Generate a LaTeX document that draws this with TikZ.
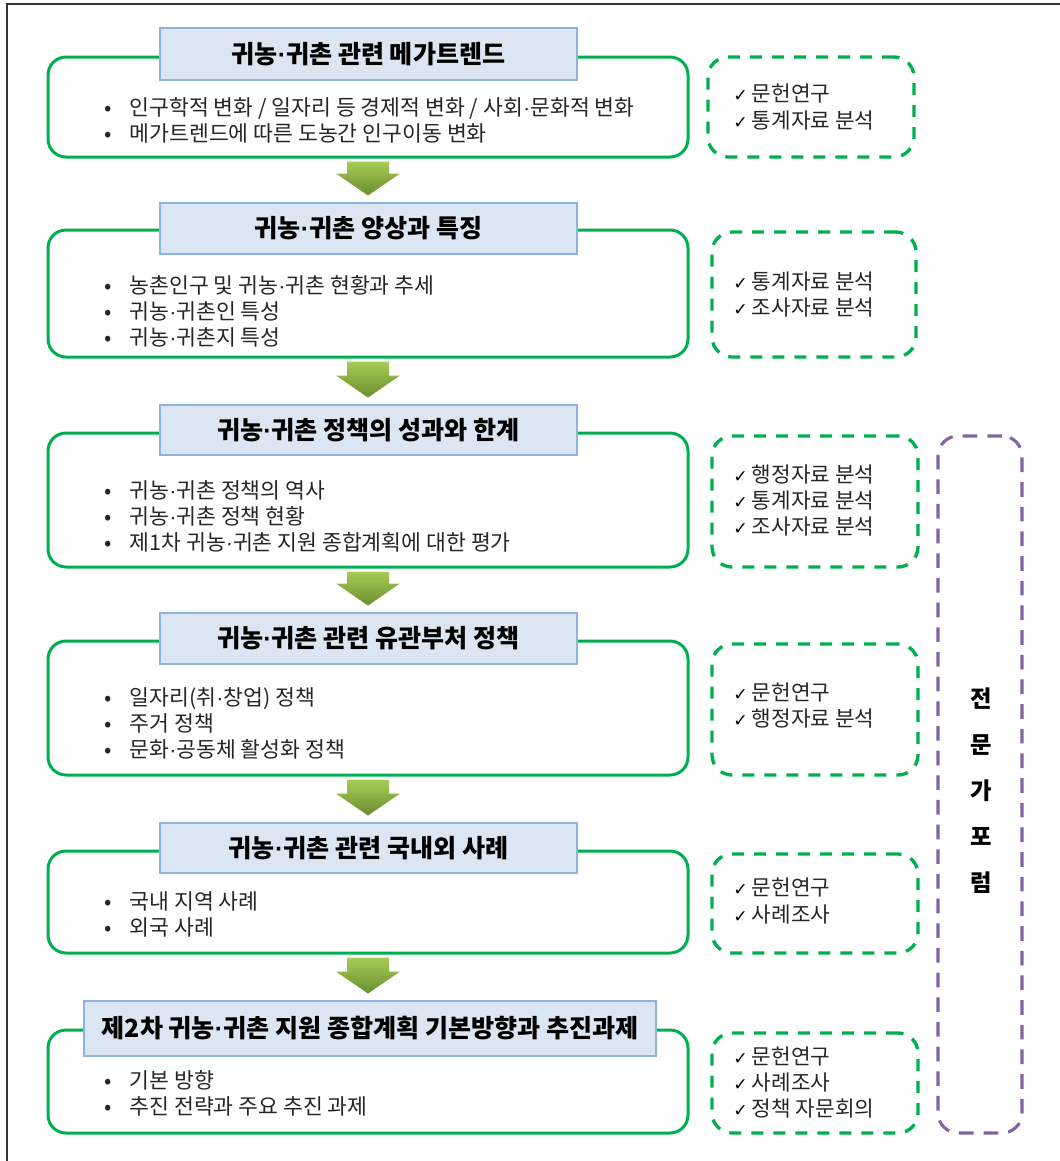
\documentclass[tikz,border=0pt]{standalone}
\usepackage{fontspec}
\setmainfont{Noto Sans CJK KR}
\newfontfamily\djv{DejaVu Sans}
\newfontfamily\lat{Liberation Sans}
\usetikzlibrary{fit,calc}
\definecolor{gline}{HTML}{00B050}
\definecolor{tfill}{HTML}{DCE6F2}
\definecolor{tline}{HTML}{8DB3E2}
\definecolor{pline}{HTML}{8064A2}
\definecolor{atop}{HTML}{A8CC58}
\definecolor{abot}{HTML}{6A8E2C}
\definecolor{frame}{HTML}{333333}
\newcommand{\md}{{\lat ·}}
\newcommand{\bl}[1]{\makebox[19pt][l]{•}#1}
\newcommand{\ck}{\makebox[14pt][l]{\color{black}\djv\fontsize{13}{12}\selectfont ✓}}
\tikzset{
  gbox/.style={draw=gline, line width=2.25pt, rounded corners=13.5pt, inner sep=0pt},
  mbox/.style={draw=gline, line width=2.5pt, rounded corners=15pt, inner sep=0pt, dash pattern=on 9pt off 7.5pt},
  pbox/.style={draw=pline, line width=2.3pt, rounded corners=15pt, inner sep=0pt, dash pattern=on 11pt off 7.5pt},
  tbox/.style={draw=tline, fill=tfill, line width=2.2pt, inner sep=0pt},
  ttext/.style={font=\fontsize{18.8}{22}\selectfont\bfseries, text=black, inner sep=0pt},
  btext/.style={font=\fontsize{16.2}{19.5}\selectfont, align=left, anchor=west, inner sep=0pt, text=black!85},
  mtext/.style={font=\fontsize{16}{19.8}\selectfont, align=left, anchor=west, inner sep=0pt, text=black!85},
  ptext/.style={font=\fontsize{17.5}{34.5}\selectfont\bfseries, align=center, inner sep=0pt},
}
\newcommand{\blockarrow}[2]{%
  \shade[top color=atop, bottom color=abot]
    let \p1=($(#1.south)+(0,3)$), \p2=($(#2.north)+(0,-6)$) in
    (\x1-15.75pt,\y1) -- (\x1+15.75pt,\y1) -- (\x1+15.75pt,\y2+16.5pt)
    -- (\x1+24pt,\y2+16.5pt) -- (\x1,\y2) -- (\x1-24pt,\y2+16.5pt)
    -- (\x1-15.75pt,\y2+16.5pt) -- cycle;}
\begin{document}
\begin{tikzpicture}[x=0.75pt,y=-0.75pt]
\useasboundingbox (0,0) rectangle (1060,1161);
% outer frame (top and left)
\coordinate (fr1) at (7,1161);
\coordinate (fr2) at (7,4);
\coordinate (fr3) at (1060,4);
\draw[frame, line width=1.5pt] (fr1) -- (fr2) -- (fr3);

% ---- block 1
\node[gbox, fit={(48,57)(688,157)}] (g1) {};
\node[tbox, fit={(160,28)(577,80)}] (t1) {};
\node[ttext] (t1x) at (t1.center) {귀농\md 귀촌 관련 메가트렌드};
\node[btext] (b1) at (104,120) {\bl{인구학적 변화 / 일자리 등 경제적 변화 / 사회\md 문화적 변화}\\\bl{메가트렌드에 따른 도농간 인구이동 변화}};
\node[mbox, fit={(708,57)(914,157)}] (m1) {};
\node[mtext] (m1x) at (733,107) {\ck 문헌연구\\\ck 통계자료 분석};

% ---- block 2
\node[gbox, fit={(48,230)(688,357)}] (g2) {};
\node[tbox, fit={(160,203)(577,254)}] (t2) {};
\node[ttext] (t2x) at (t2.center) {귀농\md 귀촌 양상과 특징};
\node[btext] (b2) at (104,311) {\bl{농촌인구 및 귀농\md 귀촌 현황과 추세}\\\bl{귀농\md 귀촌인 특성}\\\bl{귀농\md 귀촌지 특성}};
\node[mbox, fit={(712,232)(916,357)}] (m2) {};
\node[mtext] (m2x) at (733,294.5) {\ck 통계자료 분석\\\ck 조사자료 분석};

% ---- block 3
\node[gbox, fit={(48,433)(688,567)}] (g3) {};
\node[tbox, fit={(160,405)(577,455)}] (t3) {};
\node[ttext] (t3x) at (t3.center) {귀농\md 귀촌 정책의 성과와 한계};
\node[btext] (b3) at (104,516) {\bl{귀농\md 귀촌 정책의 역사}\\\bl{귀농\md 귀촌 정책 현황}\\\bl{제1차 귀농\md 귀촌 지원 종합계획에 대한 평가}};
\node[mbox, fit={(712,436)(918,567)}] (m3) {};
\node[mtext] (m3x) at (733,500.5) {\ck 행정자료 분석\\\ck 통계자료 분석\\\ck 조사자료 분석};

% ---- block 4
\node[gbox, fit={(48,641)(688,775)}] (g4) {};
\node[tbox, fit={(160,613)(577,664)}] (t4) {};
\node[ttext] (t4x) at (t4.center) {귀농\md 귀촌 관련 유관부처 정책};
\node[btext] (b4) at (104,723) {\bl{일자리(취\md 창업) 정책}\\\bl{주거 정책}\\\bl{문화\md 공동체 활성화 정책}};
\node[mbox, fit={(712,644)(918,775)}] (m4) {};
\node[mtext] (m4x) at (733,705.5) {\ck 문헌연구\\\ck 행정자료 분석};

% ---- block 5
\node[gbox, fit={(48,851)(688,953)}] (g5) {};
\node[tbox, fit={(160,823)(577,873)}] (t5) {};
\node[ttext] (t5x) at (t5.center) {귀농\md 귀촌 관련 국내외 사례};
\node[btext] (b5) at (104,914) {\bl{국내 지역 사례}\\\bl{외국 사례}};
\node[mbox, fit={(712,854)(918,953)}] (m5) {};
\node[mtext] (m5x) at (733,901) {\ck 문헌연구\\\ck 사례조사};

% ---- block 6
\node[gbox, fit={(48,1030)(688,1133)}] (g6) {};
\node[tbox, fit={(84,1001)(656,1056)}] (t6) {};
\node[ttext] (t6x) at (t6.center) {제2차 귀농\md 귀촌 지원 종합계획 기본방향과 추진과제};
\node[btext] (b6) at (104,1093) {\bl{기본 방향}\\\bl{추진 전략과 주요 추진 과제}};
\node[mbox, fit={(712,1033)(918,1133)}] (m6) {};
\node[mtext] (m6x) at (733,1082.5) {\ck 문헌연구\\\ck 사례조사\\\ck 정책 자문회의};

% ---- expert forum
\node[pbox, fit={(938,436)(1022,1133)}] (p) {};
\node[ptext] (px) at (981,791) {전\\문\\가\\포\\럼};

% ---- arrows
\blockarrow{g1}{t2}
\blockarrow{g2}{t3}
\blockarrow{g3}{t4}
\blockarrow{g4}{t5}
\blockarrow{g5}{t6}
\end{tikzpicture}
\end{document}
